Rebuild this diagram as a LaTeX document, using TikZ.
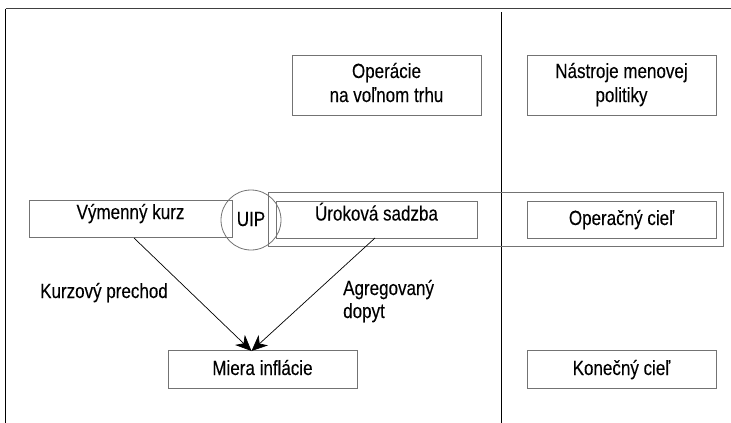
\documentclass[tikz,border=0pt]{standalone}
\usepackage{fontspec}
\setmainfont{Liberation Sans}[FakeStretch=0.83,FakeBold=0.15]
\usetikzlibrary{arrows.meta}
\tikzset{
  box/.style={draw=black!55, line width=0.8pt},
  txt/.style={inner sep=0pt, anchor=base, align=center, font=\fontsize{20.5}{24}\selectfont},
  ltxt/.style={inner sep=0pt, anchor=base west, align=left, font=\fontsize{20.5}{23}\selectfont},
  arr/.style={draw=black, line width=0.7pt, -{Stealth[length=16pt, width=14pt, inset=5pt]}}
}
\begin{document}
\begin{tikzpicture}[x=1pt, y=-1pt]
\useasboundingbox (0,0) rectangle (731,423);
% frame
\coordinate (tl) at (5.5,8.5);
\coordinate (tr) at (731,8.5);
\coordinate (bl) at (5.5,423);
\draw[black!75, line width=1.5pt] (tl) -- (tr);
\draw[black, line width=1.5pt] (tl) -- (bl);
\coordinate (dtop) at (501,12);
\coordinate (dbot) at (501,423);
\draw[black, line width=0.9pt] (dtop) -- (dbot);
% boxes
\node[box, minimum width=189pt, minimum height=60pt, inner sep=0pt] (ops) at (386.5,85) {};
\node[box, minimum width=189pt, minimum height=60pt, inner sep=0pt] (nas) at (621.5,85) {};
\node[box, minimum width=455.5pt, minimum height=54pt, inner sep=0pt] (big) at (495.75,219) {};
\node[box, minimum width=201pt, minimum height=37pt, inner sep=0pt] (urok) at (376.5,219.5) {};
\node[box, minimum width=189pt, minimum height=37pt, inner sep=0pt] (opc) at (621.5,219.5) {};
\node[box, minimum width=203pt, minimum height=37pt, inner sep=0pt] (vym) at (130.5,218.5) {};
\node[box, circle, minimum size=60pt, inner sep=0pt] (uip) at (251,220) {};
\node[box, minimum width=189pt, minimum height=38pt, inner sep=0pt] (mie) at (262.5,369) {};
\node[box, minimum width=189pt, minimum height=38pt, inner sep=0pt] (kon) at (621.5,369) {};
% texts
\node[txt] (tops) at (386.5,102) {Operácie\\na voľnom trhu};
\node[txt] (tnas) at (621.5,102) {Nástroje menovej\\politiky};
\node[txt] (turok) at (376.5,220.5) {Úroková sadzba};
\node[txt] (topc) at (621.5,225) {Operačný cieľ};
\node[txt] (tvym) at (130.5,219) {Výmenný kurz};
\node[txt] (tuip) at (251,226) {UIP};
\node[txt] (tmie) at (262.5,375) {Miera inflácie};
\node[txt] (tkon) at (621.5,375) {Konečný cieľ};
\node[txt] (tkp) at (104,298) {Kurzový prechod};
\node[ltxt] (tad) at (343,318) {Agregovaný\\dopyt};
% arrows
\coordinate (vs) at (134,238);
\coordinate (us) at (375,238);
\coordinate (tip) at (251.5,351);
\draw[arr] (vs) -- (tip);
\draw[arr] (us) -- (tip);
\end{tikzpicture}
\end{document}
